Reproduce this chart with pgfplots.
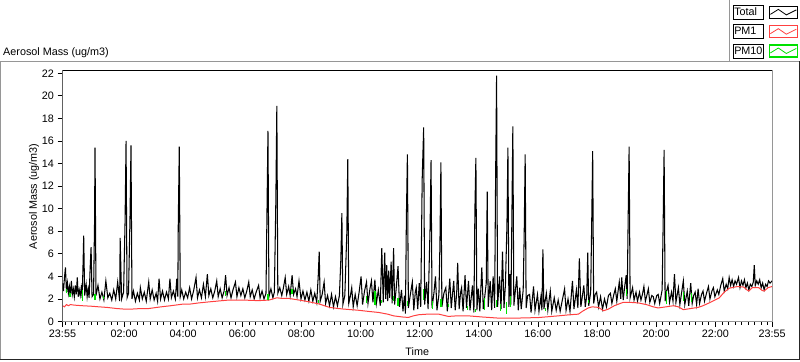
\documentclass[border=0pt]{standalone}
\usepackage{pgfplots}
\pgfplotsset{compat=1.18}
\usepackage{fontspec}
\setmainfont{Liberation Sans}
\definecolor{pmred}{RGB}{255,64,64}
\definecolor{pmgreen}{RGB}{0,225,0}
\definecolor{framegray}{RGB}{150,150,150}
\newcommand{\chartfont}{\fontsize{10.8bp}{13bp}\selectfont}
\begin{document}
\begin{tikzpicture}[x=1bp,y=1bp,font=\chartfont]
\useasboundingbox (0,0) rectangle (800,361);
% outer panel frame
\draw[framegray,line width=1bp] (0.5,1.5) -- (0.5,300) -- (799.5,300);
\draw[framegray,line width=1bp] (729,300) -- (729,361);
\draw[black!85,line width=1bp] (0.5,1.5) -- (799.5,1.5) -- (799.5,300);
\node[anchor=base west,inner sep=0pt] at (3,306) {Aerosol Mass (ug/m3)};
\begin{axis}[
  at={(62.5bp,39.5bp)}, anchor=south west,
  scale only axis, width=709.5bp, height=250.5bp,
  xmin=0, xmax=1440, ymin=0, ymax=22.2,
  xtick={0,125,245,365,485,605,725,845,965,1085,1205,1325,1440},
  xticklabels={23:55,02:00,04:00,06:00,08:00,10:00,12:00,14:00,16:00,18:00,20:00,22:00,23:55},
  minor xtick={5,18.333,...,1440},
  ytick={0,2,...,22},
  tick align=outside, xtick pos=bottom, ytick pos=left,
  major tick length=5bp, minor tick length=3bp,
  tick style={black, line width=0.8bp},
  axis line style={framegray, line width=1bp},
  tick label style={font=\chartfont},
  label style={font=\chartfont},
  /pgf/number format/assume math mode=true,
  xlabel={Time}, ylabel={Aerosol Mass (ug/m3)},
  xlabel style={at={(axis description cs:0.5,-0.122)}, anchor=center},
  ylabel style={at={(axis description cs:-0.0402,0.5)}, anchor=center},
  unbounded coords=jump,
  legend plot pos=right,
  legend image code/.code={\path (0bp,-6bp) rectangle (28bp,6bp);
     \draw[#1,line width=0.8bp] (1bp,-2bp) -- (9bp,3bp) -- (17bp,-2.5bp) -- (27bp,2.5bp);},
  legend style={at={(axis description cs:1.0366,1.2635)}, anchor=north east,
     draw=none, fill=none, inner sep=0pt, outer sep=0pt,
     row sep=4.5bp, column sep=5bp, font=\chartfont,
     nodes={draw=black, line width=0.8bp, inner sep=1bp, text width=28bp, minimum height=14bp}},
]
\addplot[black, line width=1.05bp] coordinates {
(0,3.4)(2,2.7)(4,3.9)(6,4.8)(8,2.6)(10,3.4)(12,2.5)(14,3.1)(16,2.3)(18,3.6)(20,2.4)(22,2.9)(24,2.2)(26,3.2)(28,2.4)(30,3.9)(32,2.2)(34,2.8)(36,2.3)(38,3.0)(40,2.1)(42,5.6)(43,7.6)(45,2.3)(48,3.3)(50,2.2)(52,2.9)(54,2.1)(56,4.6)(58,6.6)(60,2.2)(63,2.4)(65,8.6)(66,15.4)(68,2.3)
(72,3.2)(76,2.0)(80,2.6)(84,1.9)(88,3.6)(92,2.1)(96,2.5)(100,1.9)(104,2.8)(108,2.0)(112,3.5)(116,1.8)(117,7.4)(120,2.0)(124,2.6)(127,8.9)(129,16.0)(131,2.1)(134,2.5)(137,9.2)(139,15.6)(141,2.0)(144,2.7)(148,1.8)(152,2.5)(156,1.9)(158,3.0)(162,2.0)(166,2.6)(170,1.8)(175,3.5)(178,2.0)(182,2.8)(186,1.9)(190,2.5)(193,1.8)(196,3.8)(199,2.0)(203,2.7)(207,1.9)(211,2.6)(215,2.0)(218,3.8)(221,2.1)(225,2.7)(229,2.0)(232,3.8)(234,2.2)(235,8.8)(237,15.5)(239,2.2)(242,2.8)(246,2.0)(250,2.6)(254,2.1)(258,3.0)(262,2.0)(266,2.7)(271,3.9)(274,2.1)(278,2.8)
(282,2.1)(286,3.3)(290,2.2)(294,4.2)(297,2.3)(301,2.9)(305,2.1)(309,2.7)(313,3.6)(316,2.2)(320,2.9)(324,2.1)(328,2.7)(331,4.1)(334,2.3)(338,3.0)(342,2.1)(346,2.8)(351,3.5)(354,2.2)(358,3.0)(362,2.3)(366,2.9)(370,2.1)(374,2.7)(378,3.5)(381,2.2)(385,2.8)(389,2.0)(393,2.6)(398,3.2)(401,2.1)(405,2.7)(409,2.0)(413,2.5)(415,9.7)(417,16.9)(419,2.2)(423,2.9)(427,2.1)(430,2.6)(433,10.7)(435,19.1)(437,2.5)(441,3.0)(445,2.3)(448,2.9)(452,3.9)(455,2.4)(459,3.1)(462,2.3)(466,4.1)(469,2.4)(473,2.9)(476,2.2)(480,3.6)
(484,2.0)(488,2.7)(492,1.9)(496,2.6)(500,1.8)(504,2.8)(508,1.8)(512,2.5)(516,1.7)(519,4.0)(521,6.2)(523,1.8)(527,2.4)(531,3.5)(534,1.6)(538,2.3)(542,1.4)(546,2.4)(550,1.3)(554,2.2)(558,1.4)(562,2.3)(565,5.6)(567,9.6)(569,1.5)(573,2.3)(577,7.8)(579,14.4)(581,1.6)(584,2.2)(587,3.0)(590,1.3)(594,2.4)(598,1.4)(602,2.6)(606,4.0)(609,1.5)(613,2.7)(617,3.5)(620,1.6)(624,2.9)(627,3.6)(630,1.7)(634,3.7)(637,1.6)(641,2.8)(645,1.4)(648,6.5)(651,1.7)(654,6.1)(656,2.0)(658,5.0)(660,1.8)(662,4.5)(664,2.1)(667,5.3)(669,1.6)(672,6.5)(674,1.5)(677,2.8)(681,4.9)(684,1.3)(688,2.8)(691,0.9)(694,2.3)(696,0.7)(698,9.4)(700,14.8)(702,1.2)
(706,2.4)(710,3.5)(713,1.0)(716,2.6)(718,3.0)(721,1.1)(724,3.4)(727,1.3)(730,12.6)(733,17.2)(735,1.5)(739,3.5)(742,1.1)(746,8.3)(748,14.3)(750,1.2)(754,2.6)(757,4.0)(760,1.0)(764,2.4)(766,6.8)(768,14.1)(770,1.3)(774,2.5)(778,3.0)(781,0.9)(786,3.8)(789,1.2)(794,3.6)(797,1.0)(800,2.5)(802,5.2)(805,1.1)(808,2.6)(810,3.0)(813,0.9)(817,4.1)(820,1.2)(824,3.6)(827,1.0)(832,3.2)(835,0.8)(837,9.9)(839,14.5)(841,1.0)(844,2.9)(847,0.9)(851,4.8)(854,1.1)(858,2.6)(860,3.4)(862,11.5)(864,1.3)(868,3.6)(871,1.0)(874,4.0)(877,1.2)(879,12.6)(881,21.8)(883,1.3)(887,4.0)(890,1.1)(893,6.2)(896,1.2)(899,3.3)(902,8.5)(904,15.4)(906,1.3)(908,4.2)(910,1.5)(912,9.0)(914,17.3)(916,1.4)(920,3.1)(922,4.0)(925,1.0)(928,3.0)(931,1.1)(935,2.8)(937,7.6)(939,14.8)(941,1.2)(944,2.3)(948,2.4)(951,0.8)(956,3.1)(959,1.0)(964,2.4)(967,0.9)(971,2.2)(973,1.0)(975,6.4)(977,1.1)(982,2.5)(985,1.0)(990,2.7)(993,0.9)(998,2.1)
(1002,1.0)(1006,1.9)(1010,0.9)(1014,1.8)(1019,2.9)(1022,1.0)(1026,2.0)(1030,0.9)(1035,3.6)(1038,1.1)(1043,2.8)(1046,1.2)(1049,5.6)(1052,1.3)(1055,2.2)(1058,3.2)(1061,1.3)(1064,2.3)(1066,6.1)(1068,1.4)(1072,2.6)(1074,8.6)(1076,15.1)(1078,1.6)(1081,2.4)(1084,2.6)(1088,1.3)(1092,2.2)(1096,1.1)(1100,2.0)(1104,1.3)(1108,2.3)(1112,2.5)(1115,1.6)(1119,2.4)(1122,2.9)(1125,1.8)(1130,3.5)
(1133,2.0)(1135,3.9)(1138,1.9)(1141,3.1)(1144,4.1)(1146,2.0)(1148,9.0)(1150,15.5)(1152,2.1)(1157,3.0)(1160,1.9)(1164,2.6)(1167,1.8)(1171,2.6)(1174,1.9)(1177,2.4)(1180,3.1)(1183,1.8)(1187,2.5)(1189,2.9)(1192,1.7)(1196,2.3)(1199,2.2)(1202,1.6)(1206,2.3)(1209,2.4)(1212,1.6)(1217,2.8)(1219,8.5)(1221,15.2)(1223,1.8)(1226,2.7)(1229,3.2)(1232,1.7)(1236,2.6)(1239,1.8)(1242,4.2)(1245,1.7)(1250,3.0)(1253,1.5)(1256,2.4)(1260,3.6)(1263,1.5)(1268,2.7)(1271,1.4)(1275,3.4)(1278,1.6)(1281,2.3)(1284,2.6)(1287,1.5)(1290,2.9)(1293,1.6)(1297,2.4)(1300,2.7)(1303,1.8)(1307,2.5)(1311,3.1)(1314,2.0)(1318,2.7)(1321,3.0)(1324,2.2)(1329,2.8)
(1332,2.4)(1336,3.2)(1340,3.8)(1343,2.7)(1347,3.3)(1350,2.9)(1353,3.9)(1356,3.2)(1359,3.7)(1362,3.1)(1365,3.6)(1368,3.3)(1372,3.9)(1375,3.0)(1378,3.6)(1381,3.2)(1384,3.7)(1387,3.0)(1390,3.4)(1393,2.8)(1396,3.3)(1399,3.1)(1402,3.5)(1404,5.0)(1406,3.2)(1409,3.6)(1412,3.3)(1415,3.7)(1418,3.0)(1421,3.4)(1424,2.8)(1427,3.3)(1430,3.1)(1433,3.6)(1436,3.4)(1440,3.6)
};
\addlegendentry{Total}
\addplot[pmred, line width=1bp] coordinates {
(0,1.4)(4,1.3)(8,1.5)(12,1.4)(16,1.5)(24,1.45)(40,1.4)(60,1.35)(74,1.3)(90,1.25)(110,1.15)(125,1.1)(140,1.1)(160,1.15)(175,1.15)(200,1.3)(220,1.4)(246,1.55)(260,1.55)(277,1.65)(300,1.75)(337,1.9)(366,1.9)(398,1.85)(419,1.9)(435,2.1)(445,2.05)(459,2.05)(480,1.9)(500,1.75)(521,1.55)(542,1.25)(560,1.15)(571,1.1)(600,1.0)(620,0.9)(642,0.8)(660,0.65)(672,0.5)(690,0.4)(702,0.36)(712,0.5)(723,0.6)(743,0.66)(763,0.66)(783,0.45)(800,0.5)(824,0.5)(852,0.4)(885,0.3)(920,0.3)(966,0.35)(1006,0.5)(1030,0.6)(1047,0.65)(1055,0.9)(1067,1.2)(1075,1.3)(1088,1.25)(1098,0.95)(1108,1.1)(1120,1.4)(1138,1.7)(1150,1.7)(1168,1.65)(1185,1.5)(1199,1.3)(1209,1.2)(1225,1.3)(1240,1.4)(1250,1.3)(1260,1.05)(1275,1.15)(1290,1.25)(1300,1.4)(1315,1.7)(1333,2.1)(1343,2.6)(1353,2.95)(1370,3.1)(1383,3.05)(1389,2.8)(1393,2.7)(1400,3.0)(1413,3.0)(1420,2.75)(1424,2.7)(1432,3.0)(1440,3.1)
};
\addlegendentry{PM1}
\addplot[pmgreen, line width=1.3bp] coordinates {
(8,2.5)(8,2.9)(10,nan)(15,2.2)(15,2.5)(17,nan)(40,1.85)(40,2.8)(42,nan)(66,1.9)(66,2.4)(68,nan)(83,2.0)(83,2.3)(85,nan)(331,2.3)(331,2.7)(333,nan)(417,1.9)(417,2.4)(419,nan)(466,2.4)(466,2.9)(468,nan)(520,1.6)(520,1.9)(522,nan)(617,1.6)(617,2.3)(619,nan)(634,1.5)(634,2.7)(636,nan)(648,1.6)(648,1.9)(650,nan)(672,1.85)(672,2.3)(674,nan)(681,1.4)(681,2.1)(683,nan)(700,1.4)(700,1.85)(702,nan)(733,1.9)(733,2.9)(735,nan)(751,1.1)(751,1.85)(753,nan)(768,1.25)(768,2.0)(770,nan)(783,1.25)(783,1.55)(785,nan)(822,1.0)(822,1.4)(824,nan)(838,0.8)(838,1.1)(840,nan)(856,1.0)(856,2.1)(858,nan)(881,1.25)(881,1.9)(883,nan)(889,0.95)(889,1.55)(891,nan)(901,0.7)(901,1.7)(903,nan)(909,1.25)(909,2.3)(911,nan)(980,0.9)(980,1.2)(982,nan)(1067,1.6)(1067,1.9)(1069,nan)(1144,2.3)(1144,2.9)(1146,nan)(1226,1.55)(1226,2.7)(1228,nan)(1260,1.85)(1260,2.6)(1262,nan)(1276,1.7)(1276,2.5)
};
\addlegendentry{PM10}
\draw[black,line width=1bp] (rel axis cs:0,0) -- (rel axis cs:0,1) -- (rel axis cs:1,1);
\end{axis}
\end{tikzpicture}
\end{document}
